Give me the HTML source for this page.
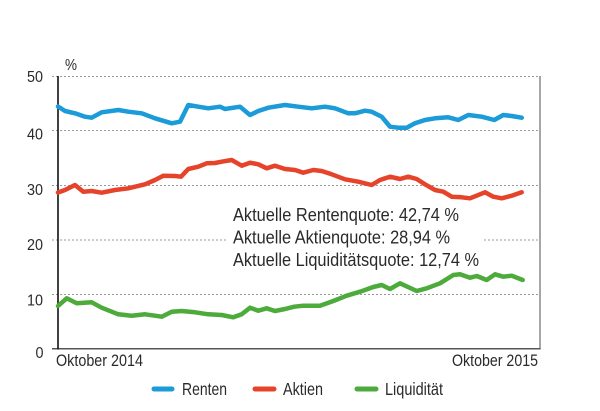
<!DOCTYPE html>
<html>
<head>
<meta charset="utf-8">
<style>
  html,body{margin:0;padding:0;background:#fff;}
  svg{display:block;}
  text{font-family:"Liberation Sans",Arial,sans-serif;fill:#2a2a2a;}
</style>
</head>
<body>
<svg width="600" height="411" viewBox="0 0 600 411" xmlns="http://www.w3.org/2000/svg">
  <rect x="0" y="0" width="600" height="411" fill="#fff"/>

  <!-- gridlines -->
  <g stroke="#9a9a9a" stroke-width="1" stroke-dasharray="2,2">
    <line x1="52" y1="76.5" x2="540" y2="76.5"/>
    <line x1="52" y1="130.5" x2="540" y2="130.5"/>
    <line x1="52" y1="185.5" x2="540" y2="185.5"/>
    <line x1="52" y1="240" x2="540" y2="240"/>
    <line x1="52" y1="294.5" x2="540" y2="294.5"/>
  </g>

  <!-- axes -->
  <line x1="540" y1="76" x2="540" y2="349.5" stroke="#888" stroke-width="1.5"/>
  <line x1="52" y1="348.8" x2="540.5" y2="348.8" stroke="#555" stroke-width="1.5"/>
  <line x1="58" y1="76" x2="58" y2="349.5" stroke="#111" stroke-width="1.6"/>

  <!-- y labels -->
  <g font-size="16">
    <text x="65" y="70" textLength="12" lengthAdjust="spacingAndGlyphs">%</text>
    <text x="27" y="82" textLength="16" lengthAdjust="spacingAndGlyphs">50</text>
    <text x="27" y="139.5" textLength="16" lengthAdjust="spacingAndGlyphs">40</text>
    <text x="27" y="195" textLength="16" lengthAdjust="spacingAndGlyphs">30</text>
    <text x="27" y="250" textLength="16" lengthAdjust="spacingAndGlyphs">20</text>
    <text x="27" y="305.5" textLength="16" lengthAdjust="spacingAndGlyphs">10</text>
    <text x="35.5" y="358" textLength="8" lengthAdjust="spacingAndGlyphs">0</text>
  </g>

  <!-- x labels -->
  <g font-size="16.5">
    <text x="56" y="366" textLength="87" lengthAdjust="spacingAndGlyphs">Oktober 2014</text>
    <text x="452" y="366" textLength="86" lengthAdjust="spacingAndGlyphs">Oktober 2015</text>
  </g>

  <!-- series -->
  <g fill="none" stroke-width="4.5" stroke-linejoin="round" stroke-linecap="round">
    <polyline stroke="#1b9bd7" points="58,106.5 65,111 75,113.3 85,116.7 91.7,117.7 101.7,112.3 118.3,110 128.3,111.7 141.7,113.3 155,118.3 171.7,123.3 180,121.7 188.3,105 198.3,106.7 208.3,108.3 220,106.7 225,109 240,106.7 250,115 258.3,111 268.3,107.7 285,105 298.3,106.7 311.7,108.3 325,106.7 335,108.3 348.3,113.3 355,113.3 365,110.7 371.7,111.7 381.7,116.7 390,126.7 398.3,127.7 406.7,127.7 415,123.3 425,120 435,118.3 448.3,117.3 458.3,120 468.3,115 481.7,116.7 494.3,120 503.3,115 511.7,116 521.7,117.7"/>
    <polyline stroke="#e6432b" points="58,192.5 65,190 75,185 83.3,191.7 91.7,191 101.7,192.7 115,190 128.3,188.3 145,184.3 155,180 163.3,175.7 175,176 181,176.7 188.3,169 198.3,166.7 206.7,163.3 215,163 221.7,161.7 231.7,160 241.7,165.7 250,162.7 258.3,164.3 266.7,168.3 275,165.7 285,169 295,170 303.3,172.7 313.3,170 321.7,171 331.7,174.3 345,179.3 358.3,181.7 371.7,185 380,180 390,176.7 400,179 408.3,176.7 416.7,179 425,184.3 435,190 443.3,191.7 451.7,196.7 461.7,197.3 470,198.3 485,192.3 493.3,196.7 501.7,198.3 511.7,195.7 521.7,192.3"/>
    <polyline stroke="#4cab3b" points="58,306 66.7,298.3 76.7,303.3 91.7,302.3 101.7,307.7 118.3,314.3 131.7,315.7 145,314.3 155,315.7 161.7,316.7 171.7,311.7 181.7,311 195,312.3 208.3,314.3 221.7,315 233.3,317.3 241.7,314.3 250,307.7 258.3,310.7 266.7,308.3 275,311 285,309 294.3,306.7 303.3,305.7 320,305.7 333.3,301 346.7,295.7 360,291.7 373.3,287 381.7,285 390,289 400,283.3 416.7,291 426.7,288.3 440,283.3 453.3,275 460,274.3 470,277.7 476.7,276 486.7,280 495,274.3 503.3,276.7 511.7,275.7 522.7,280"/>
  </g>

  <!-- annotation box -->
  <rect x="226" y="203" width="256" height="68" fill="#fff"/>
  <g font-size="18">
    <text x="233" y="221" textLength="226" lengthAdjust="spacingAndGlyphs">Aktuelle Rentenquote: 42,74 %</text>
    <text x="233" y="243.5" textLength="217" lengthAdjust="spacingAndGlyphs">Aktuelle Aktienquote: 28,94 %</text>
    <text x="233" y="266" textLength="246" lengthAdjust="spacingAndGlyphs">Aktuelle Liquiditätsquote: 12,74 %</text>
  </g>

  <!-- legend -->
  <g stroke-width="5" stroke-linecap="round">
    <line x1="154" y1="389" x2="172" y2="389" stroke="#1b9bd7"/>
    <line x1="255" y1="389" x2="274" y2="389" stroke="#e6432b"/>
    <line x1="357" y1="389" x2="376" y2="389" stroke="#4cab3b"/>
  </g>
  <g font-size="17.5">
    <text x="182" y="395" textLength="45" lengthAdjust="spacingAndGlyphs">Renten</text>
    <text x="283" y="395" textLength="40" lengthAdjust="spacingAndGlyphs">Aktien</text>
    <text x="385" y="395" textLength="58" lengthAdjust="spacingAndGlyphs">Liquidität</text>
  </g>
</svg>
</body>
</html>
